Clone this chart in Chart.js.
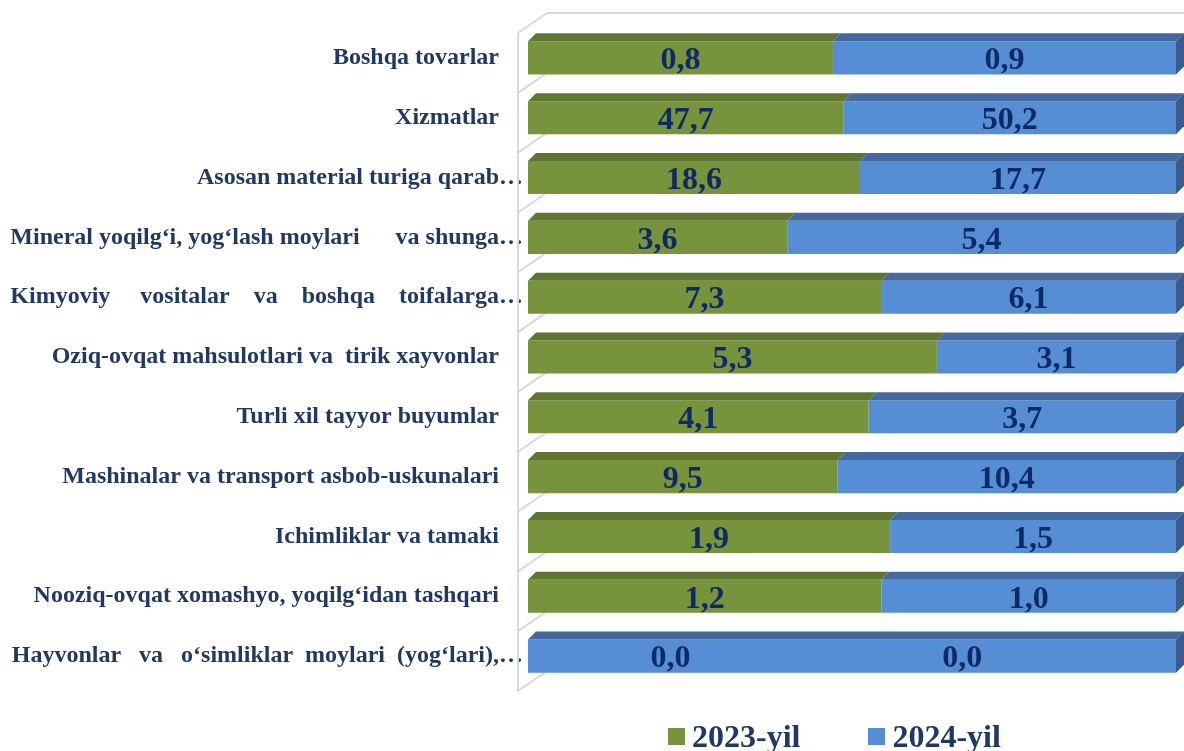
<!DOCTYPE html>
<html>
<head>
<meta charset="utf-8">
<script src="https://cdn.jsdelivr.net/npm/chart.js@4"></script>
<style>
  body { margin: 0; background: #fff; }
  #wrap { position: relative; width: 1184px; height: 751px; }
  #legend { position: absolute; left: 668px; top: 720px; display: flex;
    font: bold 32px "Liberation Serif", "Times New Roman", serif; color: #1F3864; line-height: 32px; }
  .item { display: flex; align-items: flex-start; margin-right: 68px; }
  .box { width: 17px; height: 17px; margin-top: 8px; margin-right: 7px; }
</style>
</head>
<body>
<div id="wrap">
  <canvas id="grafico"></canvas>
  <div id="legend"></div>
</div>
<script>
const categorias = [
  'Boshqa tovarlar',
  'Xizmatlar',
  'Asosan material turiga qarab…',
  'Mineral yoqilg‘i, yog‘lash moylari      va shunga…',
  'Kimyoviy vositalar va boshqa toifalarga…',
  'Oziq-ovqat mahsulotlari va  tirik xayvonlar',
  'Turli xil tayyor buyumlar',
  'Mashinalar va transport asbob-uskunalari',
  'Ichimliklar va tamaki',
  'Nooziq-ovqat xomashyo, yoqilg‘idan tashqari',
  'Hayvonlar va o‘simliklar moylari (yog‘lari),…'
];
const series = ['2023-yil', '2024-yil'];
const valores2023 = [0.8, 47.7, 18.6, 3.6, 7.3, 5.3, 4.1, 9.5, 1.9, 1.2, 0.0];
const valores2024 = [0.9, 50.2, 17.7, 5.4, 6.1, 3.1, 3.7, 10.4, 1.5, 1.0, 0.0];
// etiquetas que ocupan todo el ancho de la columna (texto justificado)
const justificadas = [4, 10];

const colores = {
  frente: ['#77933C', '#558ED5'],
  arriba: ['#5F7631', '#4369A0'],
  lado: ['#536A2B', '#3A5C8C']
};
const colorTexto = '#1F3864';
const colorValor = '#0E2A66';
const fuenteEje = 'bold 24px "Liberation Serif"';
const profundidad = 8;

// porcentajes para la barra apilada al 100%
const pct2023 = valores2023.map((v, i) => {
  const t = v + valores2024[i];
  return t > 0 ? v / t * 100 : 0;
});
const pct2024 = valores2024.map((v, i) => {
  const t = valores2023[i] + v;
  return t > 0 ? v / t * 100 : 100;
});

function justificar(texto, ancho) {
  const c = document.createElement('canvas').getContext('2d');
  c.font = fuenteEje;
  const palabras = texto.split(/\s+/);
  const huecos = palabras.slice(1).map(() => 1);
  const unir = () => palabras.map((p, k) => k === 0 ? p : ' '.repeat(huecos[k - 1]) + p).join('');
  let k = 0;
  while (true) {
    huecos[k]++;
    if (c.measureText(unir()).width > ancho) { huecos[k]--; break; }
    k = (k + 1) % huecos.length;
  }
  return unir();
}

const etiquetas = categorias.map((t, i) => {
  if (justificadas.includes(i)) return justificar(t, 513);
  if (t.endsWith('…')) return t;
  return t + '    ';
});

const paredPlugin = {
  id: 'pared',
  beforeDatasetsDraw(chart) {
    const { ctx, chartArea } = chart;
    const n = categorias.length;
    const h = (chartArea.bottom - chartArea.top) / n;
    const x0 = chartArea.left - 10;
    ctx.save();
    ctx.strokeStyle = '#D9D9D9';
    ctx.lineWidth = 2;
    ctx.beginPath();
    ctx.moveTo(x0, chartArea.top + 5);
    ctx.lineTo(x0, chartArea.bottom + 5);
    for (let k = 0; k <= n; k++) {
      const y = chartArea.top + 5 + k * h;
      ctx.moveTo(x0, y);
      ctx.lineTo(x0 + 29, y - 20);
    }
    ctx.moveTo(x0 + 29, chartArea.top - 15);
    ctx.lineTo(chart.width, chartArea.top - 15);
    ctx.stroke();
    ctx.restore();
  }
};

const barras3dPlugin = {
  id: 'barras3d',
  afterDatasetsDraw(chart) {
    const ctx = chart.ctx;
    const d = profundidad;
    ctx.save();
    chart.data.datasets.forEach((ds, di) => {
      const meta = chart.getDatasetMeta(di);
      meta.data.forEach((el, i) => {
        const p = el.getProps(['x', 'y', 'base', 'height'], true);
        const izq = Math.min(p.x, p.base), der = Math.max(p.x, p.base);
        const arr = p.y - p.height / 2, abj = p.y + p.height / 2;
        if (der - izq < 0.5) return;
        ctx.fillStyle = colores.arriba[di];
        ctx.beginPath();
        ctx.moveTo(izq, arr);
        ctx.lineTo(izq + d, arr - d);
        ctx.lineTo(der + d, arr - d);
        ctx.lineTo(der, arr);
        ctx.closePath();
        ctx.fill();
        if (di === chart.data.datasets.length - 1) {
          ctx.fillStyle = colores.lado[di];
          ctx.beginPath();
          ctx.moveTo(der, arr);
          ctx.lineTo(der + d, arr - d);
          ctx.lineTo(der + d, abj - d);
          ctx.lineTo(der, abj);
          ctx.closePath();
          ctx.fill();
        }
      });
    });
    ctx.restore();
  }
};

const valoresPlugin = {
  id: 'valores',
  afterDatasetsDraw(chart) {
    const ctx = chart.ctx;
    const xs = chart.scales.x;
    const datos = [valores2023, valores2024];
    ctx.save();
    ctx.font = 'bold 32px "Liberation Serif"';
    ctx.fillStyle = colorValor;
    ctx.textAlign = 'center';
    ctx.textBaseline = 'middle';
    chart.data.datasets.forEach((ds, di) => {
      chart.getDatasetMeta(di).data.forEach((el, i) => {
        const p = el.getProps(['x', 'y', 'base'], true);
        let cx = (p.x + p.base) / 2;
        if (valores2023[i] + valores2024[i] === 0) {
          cx = xs.getPixelForValue(di === 0 ? 22 : 67);
        }
        ctx.fillText(datos[di][i].toFixed(1).replace('.', ','), cx, p.y + 3);
      });
    });
    ctx.restore();
  }
};

const ctx = document.getElementById('grafico').getContext('2d');
const chart = new Chart(ctx, {
  type: 'bar',
  data: {
    labels: etiquetas,
    datasets: [
      { label: series[0], data: pct2023, backgroundColor: colores.frente[0] },
      { label: series[1], data: pct2024, backgroundColor: colores.frente[1] }
    ]
  },
  options: {
    indexAxis: 'y',
    responsive: true,
    maintainAspectRatio: false,
    animation: false,
    layout: { padding: { top: 28, bottom: 65, right: 8, left: 0 } },
    categoryPercentage: 1,
    barPercentage: 0.553,
    scales: {
      x: { stacked: true, min: 0, max: 100, display: false },
      y: {
        stacked: true,
        grid: { display: false, drawTicks: false },
        border: { display: false },
        ticks: {
          autoSkip: false,
          padding: 5,
          color: colorTexto,
          font: { family: 'Liberation Serif', size: 24, weight: 'bold' }
        },
        afterFit(scale) { scale.width = 528; }
      }
    },
    plugins: {
      legend: { display: false },
      tooltip: { enabled: false }
    }
  },
  plugins: [paredPlugin, barras3dPlugin, valoresPlugin]
});

const leyenda = document.getElementById('legend');
series.forEach((s, i) => {
  const item = document.createElement('div');
  item.className = 'item';
  const caja = document.createElement('span');
  caja.className = 'box';
  caja.style.background = colores.frente[i];
  item.appendChild(caja);
  item.appendChild(document.createTextNode(s));
  leyenda.appendChild(item);
});
</script>
</body>
</html>
